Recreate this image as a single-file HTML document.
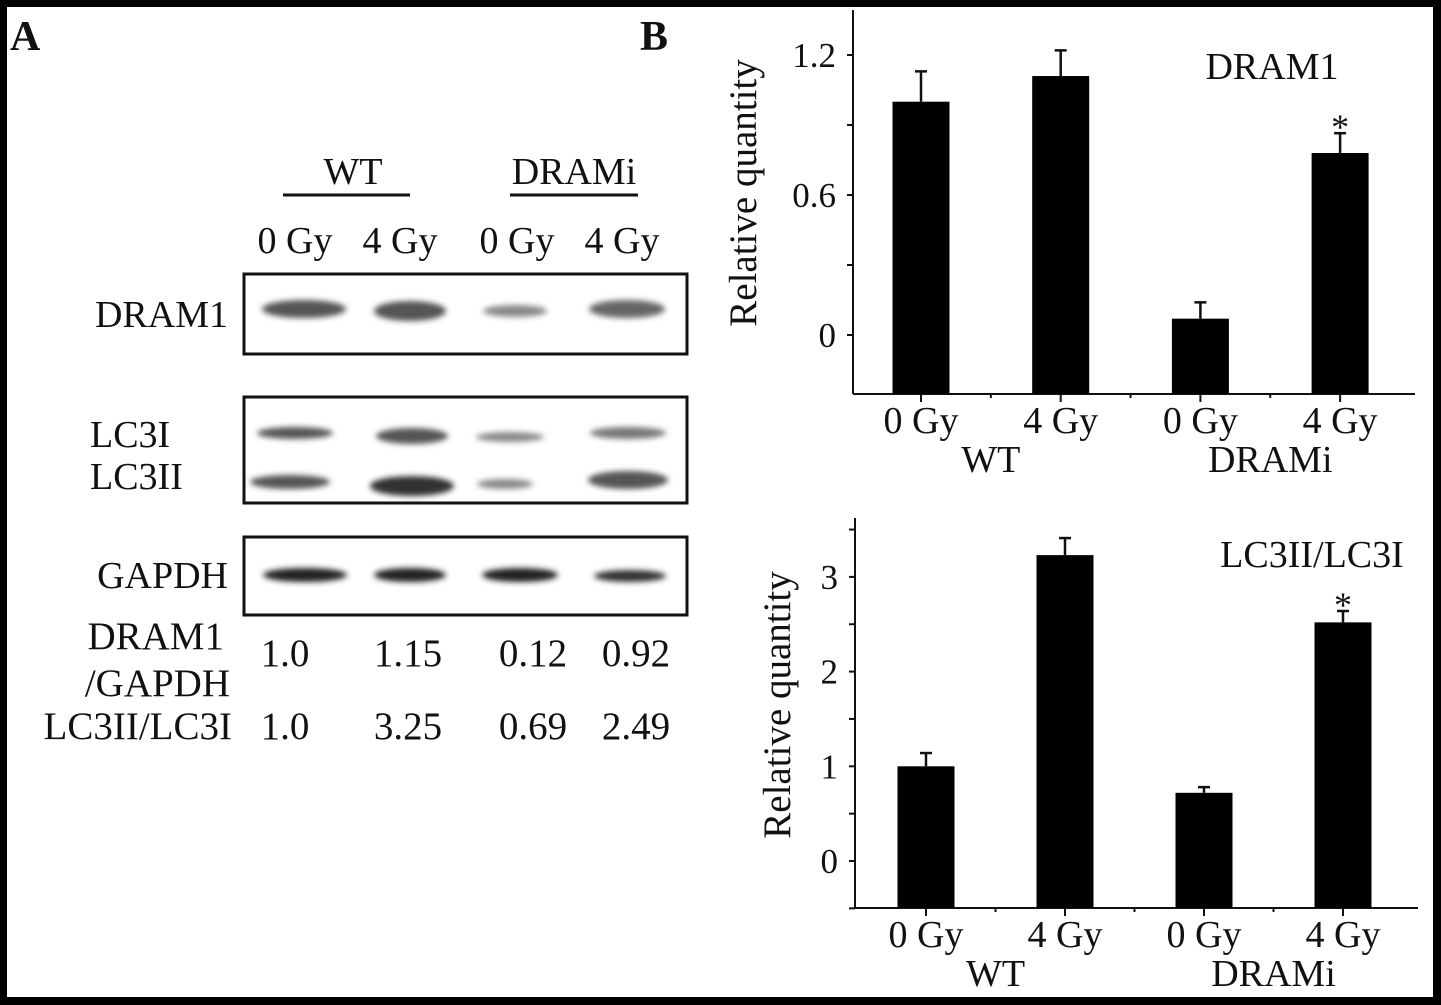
<!DOCTYPE html>
<html><head><meta charset="utf-8"><style>
html,body{margin:0;padding:0;background:#000;}
#wrap{position:relative;width:1441px;height:1005px;background:#000;overflow:hidden;}
#inner{position:absolute;left:7px;top:7px;width:1426px;height:990px;background:#fff;overflow:hidden;}
svg{position:absolute;left:0;top:0;}
text{font-family:"Liberation Serif",serif;fill:#111;}
</style></head><body>
<div id="wrap">
<div id="inner"></div>
<svg id="fig" width="1441" height="1005">
<defs>
<filter id="blur" x="-20%" y="-100%" width="140%" height="300%"><feGaussianBlur stdDeviation="3"/></filter>
</defs>
<text x="10" y="50" font-size="42" font-weight="bold">A</text>
<text x="640" y="50" font-size="42" font-weight="bold">B</text>
<g id="blot">
<text x="353" y="184" font-size="38" text-anchor="middle">WT</text>
<line x1="283" y1="195" x2="410" y2="195" stroke="#111" stroke-width="3"/>
<text x="574" y="184" font-size="38" text-anchor="middle">DRAMi</text>
<line x1="510" y1="195" x2="638" y2="195" stroke="#111" stroke-width="3"/>
<text x="295" y="253" font-size="38" text-anchor="middle">0 Gy</text>
<text x="400" y="253" font-size="38" text-anchor="middle">4 Gy</text>
<text x="517" y="253" font-size="38" text-anchor="middle">0 Gy</text>
<text x="622" y="253" font-size="38" text-anchor="middle">4 Gy</text>
<text x="228" y="327" font-size="38" text-anchor="end">DRAM1</text>
<text x="90" y="447" font-size="38">LC3I</text>
<text x="90" y="489" font-size="38">LC3II</text>
<text x="228" y="588" font-size="38" text-anchor="end">GAPDH</text>
<rect x="244" y="274" width="443" height="80" fill="none" stroke="#111" stroke-width="3"/>
<rect x="244" y="397" width="443" height="106" fill="none" stroke="#111" stroke-width="3"/>
<rect x="244" y="537" width="443" height="78" fill="none" stroke="#111" stroke-width="3"/>
<g filter="url(#blur)">
<ellipse cx="304" cy="309" rx="42" ry="9" fill="#555"/>
<ellipse cx="410" cy="311" rx="36" ry="10" fill="#555"/>
<ellipse cx="515" cy="311" rx="32" ry="6" fill="#888"/>
<ellipse cx="627" cy="309" rx="38" ry="9" fill="#666"/>
<ellipse cx="295" cy="433" rx="38" ry="6" fill="#555"/>
<ellipse cx="412" cy="436" rx="36" ry="8" fill="#555"/>
<ellipse cx="510" cy="437" rx="34" ry="5" fill="#888"/>
<ellipse cx="628" cy="433" rx="38" ry="6" fill="#777"/>
<ellipse cx="290" cy="482" rx="40" ry="7" fill="#555"/>
<ellipse cx="412" cy="486" rx="42" ry="10" fill="#333"/>
<ellipse cx="505" cy="484" rx="28" ry="5" fill="#888"/>
<ellipse cx="628" cy="480" rx="40" ry="9" fill="#555"/>
<ellipse cx="305" cy="575" rx="42" ry="7" fill="#222"/>
<ellipse cx="410" cy="575" rx="36" ry="7" fill="#222"/>
<ellipse cx="520" cy="575" rx="38" ry="7" fill="#222"/>
<ellipse cx="630" cy="576" rx="36" ry="6" fill="#333"/>
</g>
<text x="224" y="649" font-size="39" text-anchor="end">DRAM1</text>
<text x="230" y="696" font-size="39" text-anchor="end">/GAPDH</text>
<text x="232" y="739" font-size="39" text-anchor="end">LC3II/LC3I</text>
<text x="285" y="666" font-size="39" text-anchor="middle">1.0</text>
<text x="408" y="666" font-size="39" text-anchor="middle">1.15</text>
<text x="533" y="666" font-size="39" text-anchor="middle">0.12</text>
<text x="636" y="666" font-size="39" text-anchor="middle">0.92</text>
<text x="285" y="739" font-size="39" text-anchor="middle">1.0</text>
<text x="408" y="739" font-size="39" text-anchor="middle">3.25</text>
<text x="533" y="739" font-size="39" text-anchor="middle">0.69</text>
<text x="636" y="739" font-size="39" text-anchor="middle">2.49</text>
</g>
<g id="c1"></g>
<g id="c2"></g>
</svg>
</div>
<script>
const categories = ["0 Gy","4 Gy","0 Gy","4 Gy"];
const groups = ["WT","DRAMi"];
const dram1Values = [1.0, 1.11, 0.07, 0.78];
const dram1Errors = [0.13, 0.11, 0.07, 0.085];
const dram1Ticks = [0, 0.6, 1.2];
const dram1TickLabels = ["0","0.6","1.2"];
const lc3Values = [1.0, 3.23, 0.72, 2.52];
const lc3Errors = [0.14, 0.18, 0.06, 0.12];
const lc3Ticks = [0, 1, 2, 3];
const lc3TickLabels = ["0","1","2","3"];
const sigFlags = [false, false, false, true];

const NS = "http://www.w3.org/2000/svg";
function mk(parent, tag, attrs, txt){
  const e = document.createElementNS(NS, tag);
  for (const k in attrs) e.setAttribute(k, attrs[k]);
  if (txt !== undefined) e.textContent = txt;
  parent.appendChild(e);
  return e;
}
function drawChart(g, cfg, values, errors, ticks, tickLabels, title, prefix){
  const y = v => cfg.y0 - (v - 0) * cfg.pxPerUnit;
  const x = i => cfg.x0 + cfg.step * i;
  const ax = mk(g, "line", {x1:cfg.axisX, y1:cfg.axisTop, x2:cfg.axisX, y2:cfg.axisBottom, stroke:"#111","stroke-width":2});
  
  
  const xa = mk(g, "line", {x1:cfg.axisX, y1:cfg.axisBottom, x2:cfg.axisRight, y2:cfg.axisBottom, stroke:"#111","stroke-width":2});
  
  
  for (let v = cfg.minorStart; v <= cfg.minorEnd + 1e-9; v += cfg.minorStep){
    const t = mk(g, "line", {x1:cfg.axisX-6, y1:y(v), x2:cfg.axisX, y2:y(v), stroke:"#111","stroke-width":2});
    
    
  }
  ticks.forEach((v, i) => {
    const t = mk(g, "text", {x:cfg.axisX-17, y:y(v)+12, "font-size":35, "text-anchor":"end"}, tickLabels[i]);
    
    
  });
  for (let i = 0; i < values.length; i++){
    const tk = mk(g, "line", {x1:x(i), y1:cfg.axisBottom, x2:x(i), y2:cfg.axisBottom+8, stroke:"#111","stroke-width":2});
    
    
    if (i < values.length - 1){
      const mt = mk(g, "line", {x1:x(i)+cfg.step/2, y1:cfg.axisBottom, x2:x(i)+cfg.step/2, y2:cfg.axisBottom+4, stroke:"#111","stroke-width":2});
      
      
    }
    const top = y(values[i]), etop = y(values[i] + errors[i]);
    const eb = mk(g, "line", {x1:x(i), y1:etop, x2:x(i), y2:top, stroke:"#111","stroke-width":2.5});
    
    
    const ec = mk(g, "line", {x1:x(i)-6, y1:etop, x2:x(i)+6, y2:etop, stroke:"#111","stroke-width":2.5});
    
    
    const b = mk(g, "rect", {x:x(i)-cfg.bw/2, y:top, width:cfg.bw, height:cfg.axisBottom-top, fill:"#000"});
    
    
    if (sigFlags[i]){
      const s = mk(g, "text", {x:x(i), y:etop+6, "font-size":36, "text-anchor":"middle"}, "*");
      
      
    }
    const cl = mk(g, "text", {x:x(i), y:cfg.axisBottom+39, "font-size":38, "text-anchor":"middle"}, categories[i]);
    
    
  }
  groups.forEach((gname, gi) => {
    const gx = (x(gi*2) + x(gi*2+1)) / 2;
    const t = mk(g, "text", {x:gx, y:cfg.axisBottom+78, "font-size":38, "text-anchor":"middle"}, gname);
    
    
  });
  const yt = mk(g, "text", {x:0, y:0, "font-size":39, "text-anchor":"middle", transform:"translate("+cfg.ytX+","+cfg.ytY+") rotate(-90)"}, "Relative quantity");
  
  
  const tt = mk(g, "text", {x:cfg.titleX, y:cfg.titleY, "font-size":38, "text-anchor":"middle"}, title);
  
  
}
drawChart(document.getElementById("c1"), {
  y0:335, pxPerUnit:233.3, x0:921, step:139.7, bw:57, axisX:853, axisTop:10, axisBottom:394, axisRight:1415,
  minorStart:0, minorEnd:1.2, minorStep:0.3, ytX:756, ytY:193, titleX:1272, titleY:79
}, dram1Values, dram1Errors, dram1Ticks, dram1TickLabels, "DRAM1", "dram1-chart");
drawChart(document.getElementById("c2"), {
  y0:861, pxPerUnit:94.7, x0:926, step:139, bw:57, axisX:855, axisTop:518, axisBottom:908, axisRight:1418,
  minorStart:-0.5, minorEnd:3.5, minorStep:0.5, ytX:790, ytY:705, titleX:1312, titleY:567
}, lc3Values, lc3Errors, lc3Ticks, lc3TickLabels, "LC3II/LC3I", "lc3-chart");
</script>
<div style="position:absolute;left:0;top:0;width:1441px;height:1005px;pointer-events:none;box-sizing:border-box;border:7px solid #000;border-right-width:8px;border-bottom-width:8px;"></div>
</body></html>
